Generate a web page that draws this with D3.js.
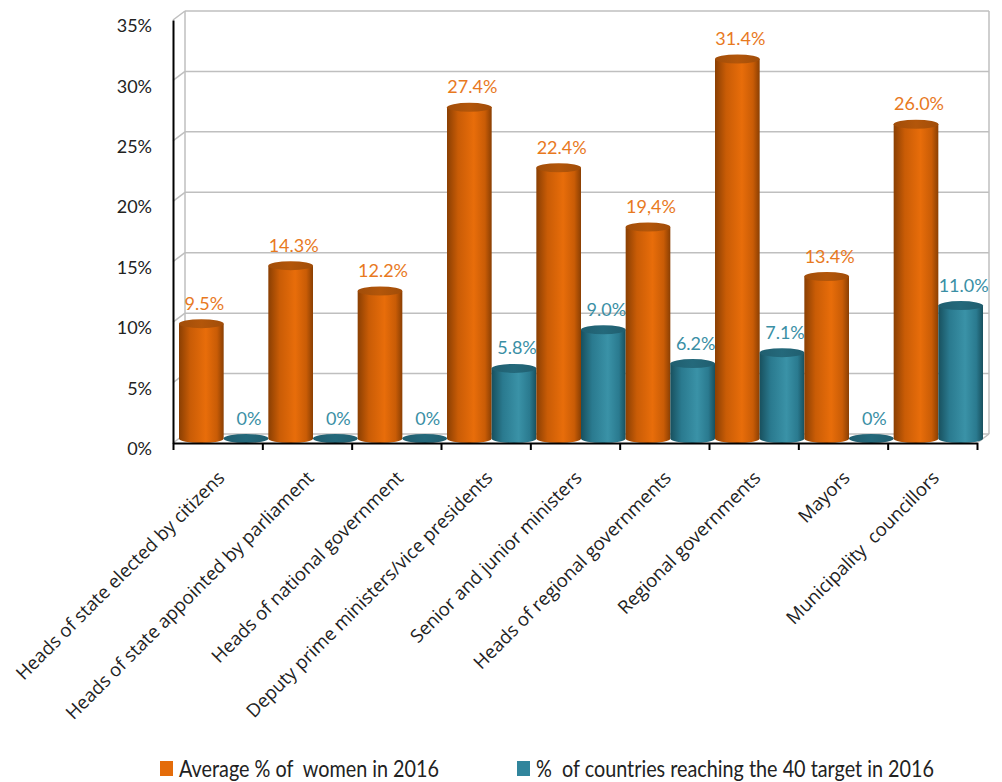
<!DOCTYPE html>
<html>
<head>
<meta charset="utf-8">
<script src="https://cdn.jsdelivr.net/npm/d3@7"></script>
<style>
  html, body { margin: 0; padding: 0; background: #fff; }
  svg { display: block; }
  text { white-space: pre; }
</style>
</head>
<body>
<svg id="chart" width="1002" height="782"></svg>
<script>
// ---------------- DATA ----------------
const categories = [
  "Heads of state elected by citizens",
  "Heads of state appointed by parliament",
  "Heads of national government",
  "Deputy prime ministers/vice presidents",
  "Senior and junior ministers",
  "Heads of regional governments",
  "Regional governments",
  "Mayors",
  "Municipality  councillors"
];
const seriesNames = ["Average % of  women in 2016", "%  of countries reaching the 40 target in 2016"];
const avgWomen = [9.5, 14.3, 12.2, 27.4, 22.4, 17.5, 31.4, 13.4, 26.0];
const avgWomenLabels = ["9.5%", "14.3%", "12.2%", "27.4%", "22.4%", "19,4%", "31.4%", "13.4%", "26.0%"];
const countriesTarget = [0, 0, 0, 5.8, 9.0, 6.2, 7.1, 0, 11.0];
const countriesTargetLabels = ["0%", "0%", "0%", "5.8%", "9.0%", "6.2%", "7.1%", "0%", "11.0%"];
const yTicks = [0, 5, 10, 15, 20, 25, 30, 35];

// ---------------- LAYOUT ----------------
const svg = d3.select("#chart");
const frontLeft = 173, frontRight = 977, frontBase = 443, frontTop = 20;
const depthX = 12, depthY = -9;           // 3D wall offset
const midX = depthX / 2, midY = depthY / 2;

const y = d3.scaleLinear().domain([0, 35]).range([frontBase, frontTop]);
const x = d3.scaleBand().domain(categories).range([frontLeft, frontRight]).paddingInner(0).paddingOuter(0);
const xs = d3.scaleBand().domain([0, 1]).range([0, x.bandwidth()]).padding(0);

const colors = [
  { dark: "#8a3f03", mid: "#c95c06", light: "#e86d0a", top: "#b3560a", label: "#e8791e", legend: "#e46c0a" },
  { dark: "#18505e", mid: "#2a7a8f", light: "#3a92a7", top: "#24697b", label: "#3a8fa5", legend: "#31859c" }
];

const defs = svg.append("defs");
colors.forEach((c, i) => {
  const g = defs.append("linearGradient").attr("id", "body" + i)
    .attr("x1", "0%").attr("x2", "100%").attr("y1", "0%").attr("y2", "0%");
  g.append("stop").attr("offset", "0%").attr("stop-color", c.dark);
  g.append("stop").attr("offset", "25%").attr("stop-color", c.mid);
  g.append("stop").attr("offset", "60%").attr("stop-color", c.light);
  g.append("stop").attr("offset", "85%").attr("stop-color", c.mid);
  g.append("stop").attr("offset", "100%").attr("stop-color", c.dark);
  const t = defs.append("linearGradient").attr("id", "top" + i)
    .attr("x1", "0%").attr("x2", "100%").attr("y1", "0%").attr("y2", "0%");
  t.append("stop").attr("offset", "0%").attr("stop-color", d3.color(c.top).darker(0.3));
  t.append("stop").attr("offset", "50%").attr("stop-color", c.top);
  t.append("stop").attr("offset", "100%").attr("stop-color", d3.color(c.top).darker(0.3));
});

// ---------------- WALLS / GRID ----------------
const grid = svg.append("g").attr("stroke", "#bfbfbf").attr("stroke-width", 1.5).attr("fill", "none");
grid.selectAll("line.back").data(yTicks).join("line")
  .attr("x1", frontLeft + depthX).attr("x2", frontRight + depthX)
  .attr("y1", d => y(d) + depthY).attr("y2", d => y(d) + depthY);
grid.selectAll("line.side").data(yTicks).join("line")
  .attr("x1", frontLeft).attr("x2", frontLeft + depthX)
  .attr("y1", d => y(d)).attr("y2", d => y(d) + depthY);
grid.append("line").attr("x1", frontLeft + depthX).attr("x2", frontLeft + depthX)
  .attr("y1", y(35) + depthY).attr("y2", y(0) + depthY);
grid.append("line").attr("x1", frontRight + depthX).attr("x2", frontRight + depthX)
  .attr("y1", y(35) + depthY).attr("y2", y(0) + depthY);
grid.append("line").attr("x1", frontRight).attr("x2", frontRight + depthX)
  .attr("y1", y(0)).attr("y2", y(0) + depthY);

// ---------------- BARS ----------------
const ry = 4.5;
const series = [
  { values: avgWomen, labels: avgWomenLabels },
  { values: countriesTarget, labels: countriesTargetLabels }
];
const barsData = [];
categories.forEach((cat, ci) => {
  series.forEach((s, si) => {
    barsData.push({ cat, si, v: s.values[ci], label: s.labels[ci] });
  });
});

const bars = svg.append("g");
bars.selectAll("g.bar").data(barsData).join("g").attr("class", "bar").each(function (d) {
  const g = d3.select(this);
  const w = xs.bandwidth();
  const x0 = x(d.cat) + xs(d.si) + midX;
  const x1 = x0 + w;
  const rx = w / 2;
  const cx = x0 + rx;
  const yTop = y(d.v) + midY;
  const yBot = y(0) + midY;
  if (d.v > 0) {
    g.append("path")
      .attr("d", `M${x0},${yTop} L${x0},${yBot} A${rx},${ry} 0 0 0 ${x1},${yBot} L${x1},${yTop} Z`)
      .attr("fill", `url(#body${d.si})`);
  }
  g.append("ellipse").attr("cx", cx).attr("cy", yTop).attr("rx", rx).attr("ry", ry)
    .attr("fill", `url(#top${d.si})`);
  g.append("text")
    .attr("x", cx + 3).attr("y", yTop - 14)
    .attr("text-anchor", "middle")
    .attr("font-family", "Lato, 'Open Sans', sans-serif")
    .attr("font-size", 18)
    .attr("fill", colors[d.si].label)
    .text(d.label);
});

// ---------------- AXES ----------------
const yAxis = d3.axisLeft(y).tickValues(yTicks).tickFormat(d => d + "%").tickSize(0).tickPadding(21);
const yg = svg.append("g").attr("transform", `translate(${frontLeft},0)`).call(yAxis);
yg.select(".domain").attr("stroke", "#000").attr("stroke-width", 2);
yg.selectAll("text").attr("font-family", "Lato, sans-serif").attr("font-size", 18).attr("fill", "#222")
  .attr("dy", "0.65em");

const boundaries = d3.range(categories.length + 1);
const xb = d3.scaleLinear().domain([0, categories.length]).range([frontLeft, frontRight]);
const xAxis = d3.axisBottom(xb).tickValues(boundaries).tickFormat("").tickSize(7).tickSizeOuter(0);
const xg = svg.append("g").attr("transform", `translate(0,${frontBase})`).call(xAxis);
xg.select(".domain").attr("stroke", "#000").attr("stroke-width", 2);
xg.selectAll(".tick line").attr("stroke", "#000").attr("stroke-width", 2);

// category labels (rotated)
svg.append("g").selectAll("text").data(categories).join("text")
  .attr("transform", d => `translate(${x(d) + x.bandwidth() / 2 + 8},${frontBase + 36}) rotate(-45)`)
  .attr("text-anchor", "end")
  .attr("font-family", "'Open Sans', sans-serif")
  .attr("font-size", 18.5)
  .attr("fill", "#222")
  .text(d => d);

// ---------------- LEGEND ----------------
const legendX = [160, 517];
const legend = svg.append("g").selectAll("g").data(seriesNames).join("g")
  .attr("transform", (d, i) => `translate(${legendX[i]},761)`);
legend.append("rect").attr("width", 13).attr("height", 15).attr("fill", (d, i) => colors[i].legend);
legend.append("text").attr("transform", "translate(19,16) scale(0.88,1)")
  .attr("font-family", "Lato, sans-serif").attr("font-size", 22.5).attr("fill", "#222")
  .text(d => d);
</script>
</body>
</html>
